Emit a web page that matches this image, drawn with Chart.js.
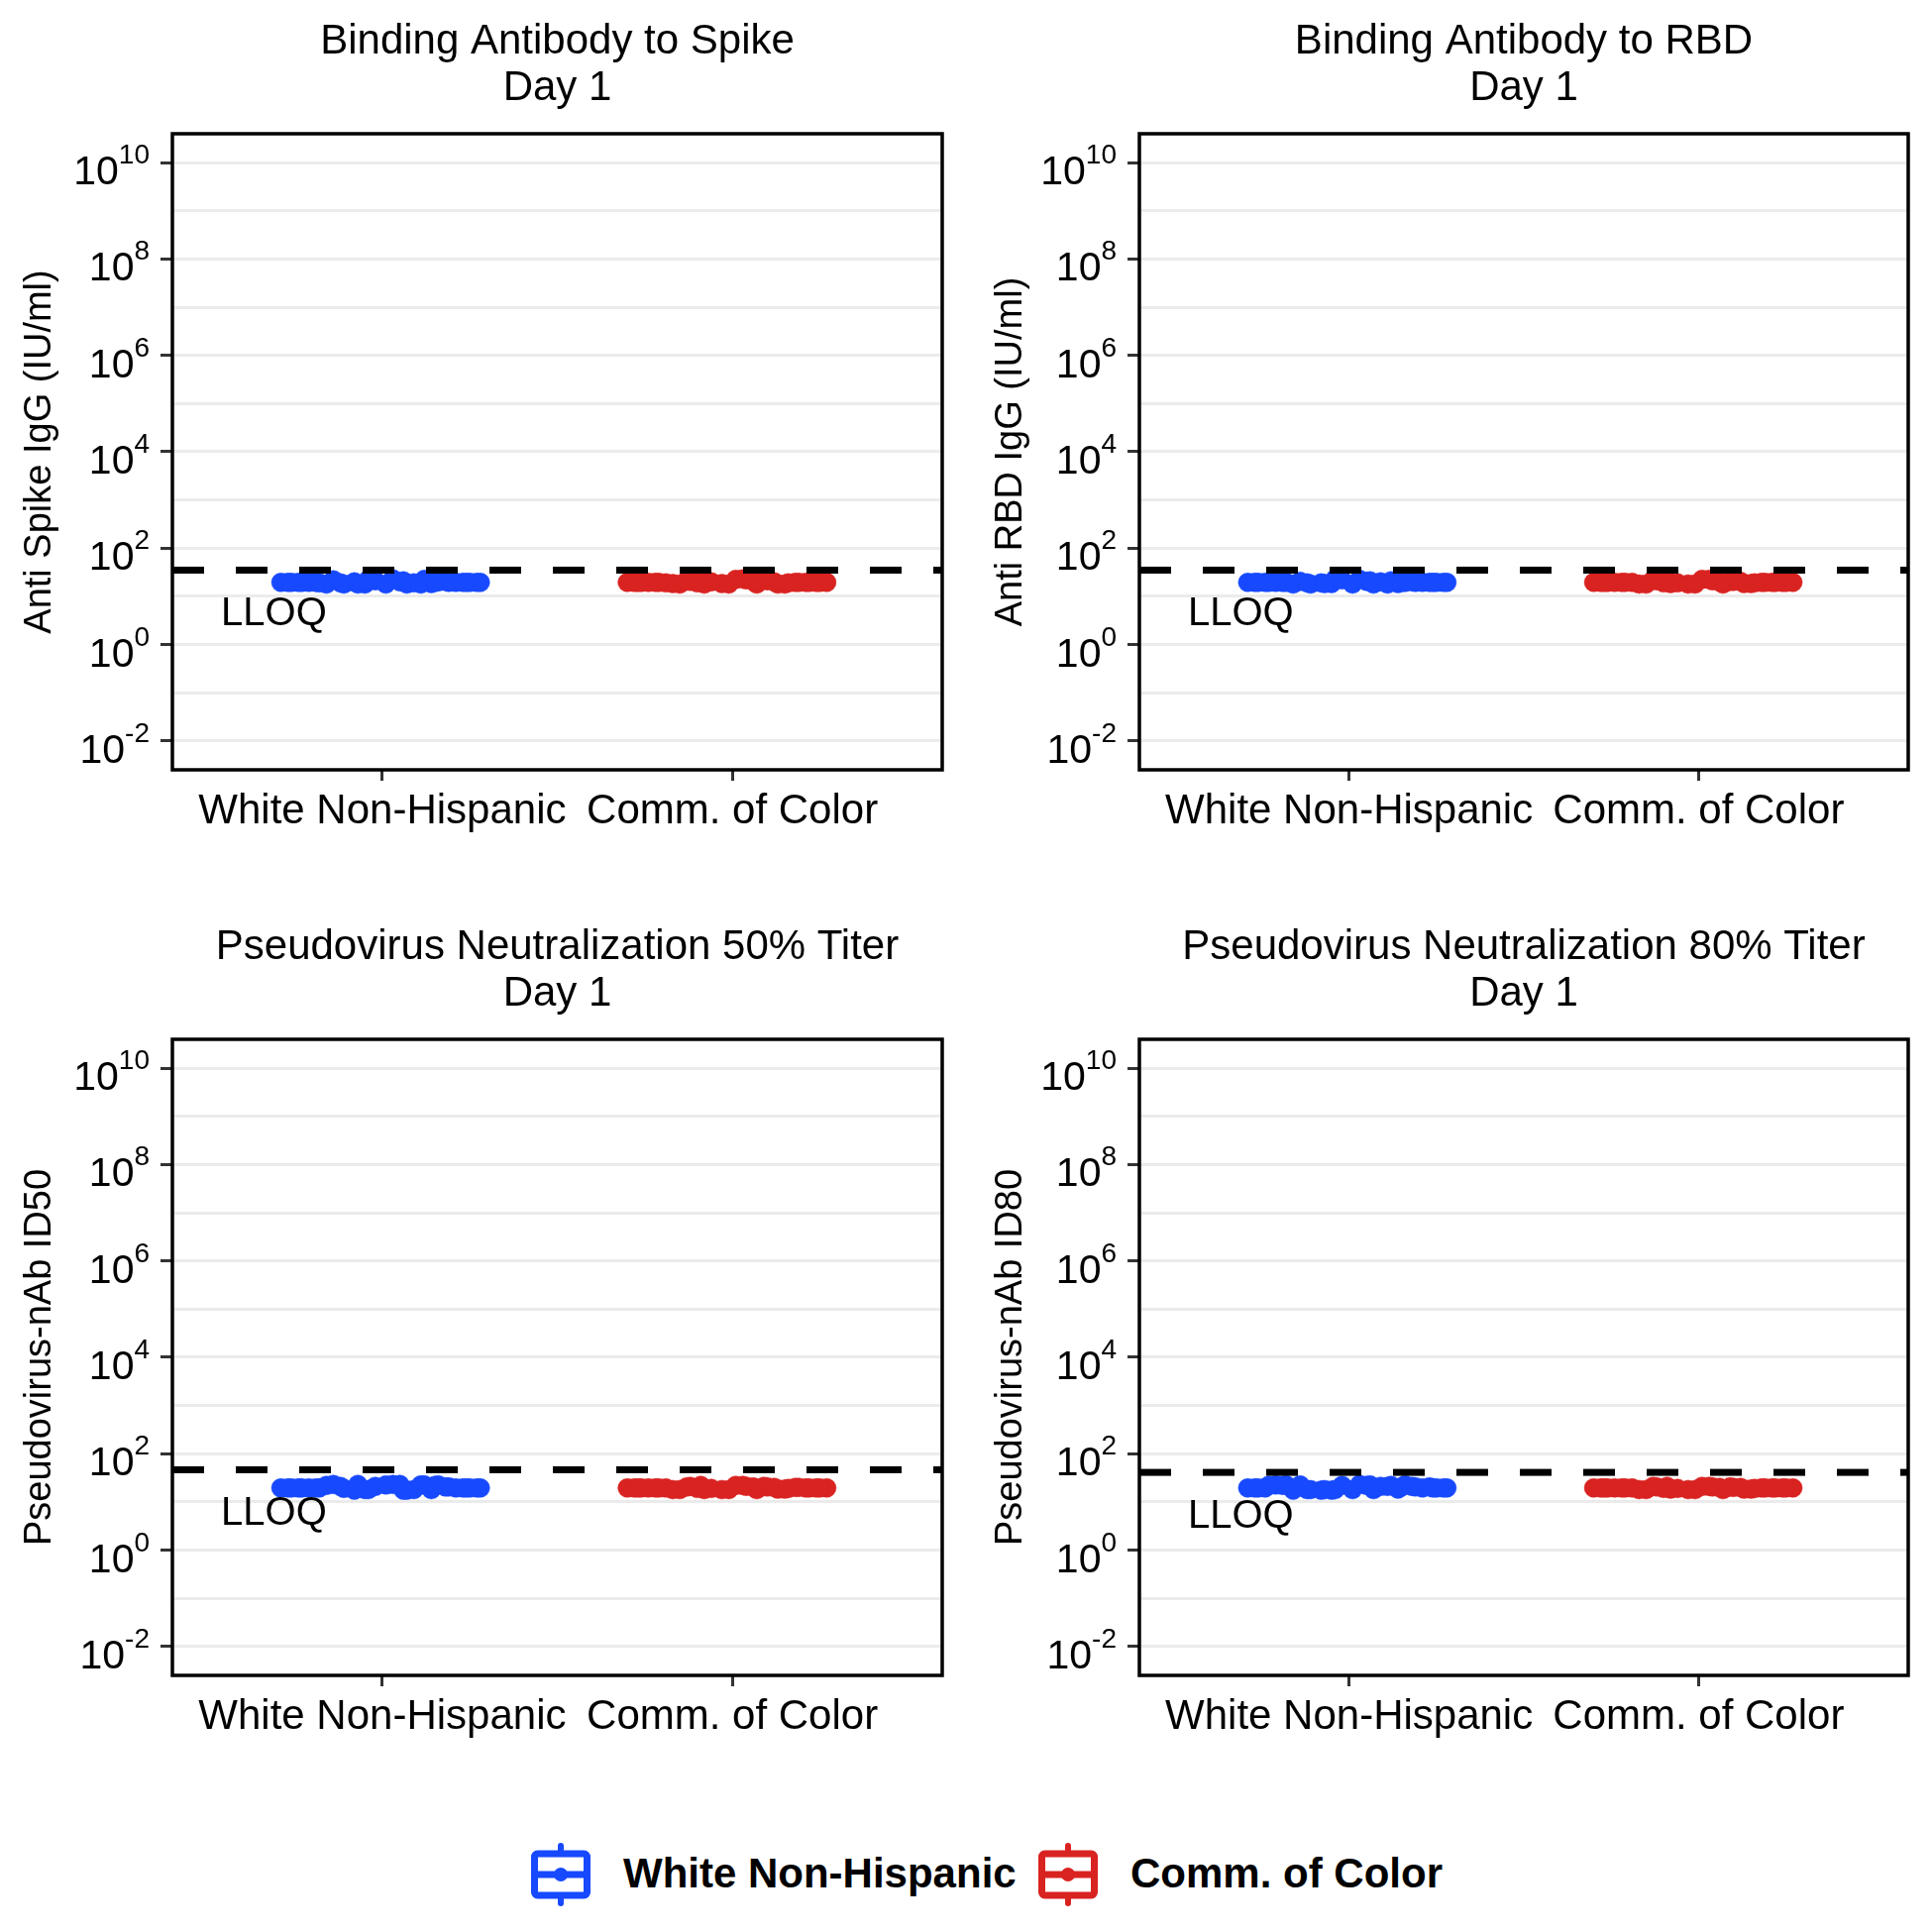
<!DOCTYPE html>
<html>
<head>
<meta charset="utf-8">
<script src="https://cdn.jsdelivr.net/npm/chart.js@4.4.1/dist/chart.umd.min.js"></script>
<style>
  html, body { margin: 0; padding: 0; background: #fff; }
  body { width: 1950px; height: 1950px; position: relative; overflow: hidden; font-family: "Liberation Sans", Arial, sans-serif; }
  canvas.panel { position: absolute; }
  .legend-icon { position: absolute; }
  .legend-text { position: absolute; font-weight: bold; font-size: 42px; line-height: 50px; color: #000; white-space: nowrap; }
</style>
</head>
<body>
<canvas id="p0" class="panel" width="975" height="900" style="left:0;top:0;width:975px;height:900px"></canvas>
<canvas id="p1" class="panel" width="975" height="900" style="left:975px;top:0;width:975px;height:900px"></canvas>
<canvas id="p2" class="panel" width="975" height="900" style="left:0;top:914px;width:975px;height:900px"></canvas>
<canvas id="p3" class="panel" width="975" height="900" style="left:975px;top:914px;width:975px;height:900px"></canvas>

<svg class="legend-icon" style="left:535px;top:1860px" width="62" height="64" viewBox="0 0 62 64">
  <line x1="31" y1="3" x2="31" y2="61" stroke="#1749FF" stroke-width="6" stroke-linecap="round"/>
  <rect x="4.5" y="11" width="53" height="42" rx="3" fill="#fff" stroke="#1749FF" stroke-width="7"/>
  <line x1="4.5" y1="32" x2="57.5" y2="32" stroke="#1749FF" stroke-width="7"/>
  <circle cx="31" cy="32" r="7" fill="#1749FF"/>
</svg>
<span class="legend-text" style="left:629px;top:1866px">White Non-Hispanic</span>
<svg class="legend-icon" style="left:1047px;top:1860px" width="62" height="64" viewBox="0 0 62 64">
  <line x1="31" y1="3" x2="31" y2="61" stroke="#D92321" stroke-width="6" stroke-linecap="round"/>
  <rect x="4.5" y="11" width="53" height="42" rx="3" fill="#fff" stroke="#D92321" stroke-width="7"/>
  <line x1="4.5" y1="32" x2="57.5" y2="32" stroke="#D92321" stroke-width="7"/>
  <circle cx="31" cy="32" r="7" fill="#D92321"/>
</svg>
<span class="legend-text" style="left:1141px;top:1866px">Comm. of Color</span>

<script>
const groups = ['White Non-Hispanic', 'Comm. of Color'];
const groupColors = ['#1749FF', '#D92321'];
const panelTitles = [
  ['Binding Antibody to Spike', 'Day 1'],
  ['Binding Antibody to RBD', 'Day 1'],
  ['Pseudovirus Neutralization 50% Titer', 'Day 1'],
  ['Pseudovirus Neutralization 80% Titer', 'Day 1']
];
const yAxisTitles = ['Anti Spike IgG (IU/ml)', 'Anti RBD IgG (IU/ml)', 'Pseudovirus-nAb ID50', 'Pseudovirus-nAb ID80'];
const yTickValues = [1e-2, 1e-1, 1e0, 1e1, 1e2, 1e3, 1e4, 1e5, 1e6, 1e7, 1e8, 1e9, 1e10];
const lloqValues = [35, 35, 46.5, 41];

// horizontal jitter of each point around its group
const jitterWhite = [-0.29, 0.12, -0.05, 0.27, -0.18, 0.03, 0.21, -0.24, -0.11, 0.16, 0.07, -0.02, 0.25, -0.27, 0.09, -0.14, 0.19, -0.08, 0.01, 0.28,
                     -0.21, 0.14, -0.16, 0.05, -0.26, 0.23, -0.04, 0.11, -0.12, 0.18, -0.19, 0.06, -0.07, 0.24, -0.23, 0.15];
const jitterColor = [0.27, -0.22, 0.04, -0.30, 0.15, -0.09, 0.21, -0.15, 0.10, -0.26, -0.03, 0.18, -0.19, 0.07, 0.24, -0.12, 0.01, -0.28, 0.13, -0.06,
                     0.25, -0.17, 0.09, -0.24, 0.19, -0.01, -0.13, 0.16, -0.21, 0.06, 0.22, -0.08, 0.12, -0.27, 0.03, -0.10];

const spikeWhite = [19.5, 22.5, 18, 19.5, 19, 23, 19.5, 19.5, 18, 20, 18, 21, 19.5, 19.5, 19, 22, 19.5, 20, 18, 19.5,
                    19.5, 18.5, 18, 20, 19.5, 19.5, 22.5, 18, 19, 20.5, 19.5, 21, 18, 19.5, 19.5, 19.5];
const spikeColor = [19.5, 19.5, 22, 19.5, 18, 22.5, 19.5, 18, 21, 19.5, 18.5, 19.5, 19, 18, 19.5, 20.5, 22.5, 19.5, 18, 20,
                    19.5, 18.5, 22, 19.5, 19.5, 18, 21, 19, 19.5, 20.5, 19.5, 18, 20, 19.5, 23, 19];
const rbdWhite = [19.5, 21, 18.5, 19.5, 19.5, 22.5, 19.5, 19.5, 18, 19.5, 18, 22, 19.5, 19.5, 20, 20.5, 19.5, 19, 18, 19.5,
                  19.5, 18.5, 18, 20.5, 19.5, 19.5, 23, 18, 19, 20, 19.5, 21, 18.5, 19.5, 19.5, 19.5];
const rbdColor = [19.5, 19.5, 21, 19.5, 18.5, 22, 19.5, 18, 20.5, 19.5, 18, 19.5, 19.5, 18, 19.5, 21, 22.5, 19.5, 18.5, 19,
                  19.5, 18, 20.5, 19.5, 19.5, 18, 22, 19, 19.5, 20, 19.5, 18.5, 20.5, 19.5, 22.5, 19];
const id50White = [19.5, 22.5, 18, 19.5, 19.5, 23, 19.5, 19.5, 19, 22.5, 17.5, 21, 19.5, 19.5, 18, 23, 20.5, 17.5, 22.5, 19.5,
                   19.5, 18, 22, 23, 19.5, 19.5, 18, 22.5, 21, 20.5, 19.5, 17.5, 23, 19.5, 19.5, 22];
const id50Color = [19.5, 19.5, 21, 19.5, 18.5, 22, 19.5, 18, 20.5, 19.5, 18, 20, 19.5, 18, 19.5, 21, 22, 19.5, 18.5, 19,
                   19.5, 18, 21, 19.5, 20, 18, 20.5, 19, 19.5, 20.5, 19.5, 18, 20, 19.5, 22, 19];
const id80White = [19.5, 22, 17.5, 19.5, 22.5, 23, 19.5, 19.5, 18, 22.5, 18, 22, 19.5, 19.5, 21, 22.5, 20.5, 17.5, 18, 19.5,
                   22.5, 18.5, 17.5, 22, 19.5, 20.5, 18, 21, 18, 21, 22, 22.5, 18, 19.5, 22, 20.5];
const id80Color = [19.5, 19.5, 20.5, 19.5, 18.5, 21, 19.5, 18, 20, 19.5, 18, 19.5, 19.5, 18, 19.5, 20.5, 21, 19.5, 18.5, 19,
                   19.5, 18, 20.5, 19.5, 19.5, 18, 21, 19, 19.5, 20, 19.5, 18.5, 20, 19.5, 21, 19];

const panelWhite = [spikeWhite, rbdWhite, id50White, id80White];
const panelColor = [spikeColor, rbdColor, id50Color, id80Color];

const FONT = '"Liberation Sans", Arial, sans-serif';
Chart.defaults.font.family = FONT;
Chart.defaults.color = '#000';

// panel border, LLOQ label and 10^n tick labels
const panelDecor = {
  id: 'panelDecor',
  afterDraw(chart) {
    const ctx = chart.ctx;
    const area = chart.chartArea;
    const ys = chart.scales.y, xs = chart.scales.x;
    ctx.save();
    // LLOQ text
    const lloq = chart.options.plugins.panelDecor.lloq;
    ctx.fillStyle = '#000';
    ctx.font = '40px ' + FONT;
    ctx.textAlign = 'center';
    ctx.textBaseline = 'alphabetic';
    ctx.fillText('LLOQ', xs.getPixelForValue(0.69), ys.getPixelForValue(lloq * 0.138) + 14);
    // y tick labels with superscript exponent
    const right = area.left - 23;
    ys.ticks.forEach(t => {
      const e = Math.round(Math.log10(t.value));
      if (e % 2 !== 0) return;
      const py = ys.getPixelForValue(t.value);
      ctx.textAlign = 'left';
      ctx.font = '41px ' + FONT;
      const bw = ctx.measureText('10').width;
      ctx.font = '28px ' + FONT;
      const sw = ctx.measureText(String(e)).width;
      const x0 = right - bw - sw;
      ctx.font = '41px ' + FONT;
      ctx.fillText('10', x0, py + 22);
      ctx.font = '28px ' + FONT;
      ctx.fillText(String(e), x0 + bw, py + 1);
    });
    // frame
    ctx.strokeStyle = '#000';
    ctx.lineWidth = 3.5;
    ctx.strokeRect(area.left, area.top, area.right - area.left, area.bottom - area.top);
    ctx.restore();
  }
};

function makePanel(i) {
  const isLeft = i % 2 === 0;
  const pts = (vals, jit, g) => vals.map((v, k) => ({ x: g + 1 + jit[k], y: v }));
  new Chart(document.getElementById('p' + i), {
    type: 'scatter',
    data: {
      datasets: [
        { label: 'LLOQ', data: [{ x: 0.4, y: lloqValues[i] }, { x: 2.6, y: lloqValues[i] }],
          showLine: true, borderColor: '#000', borderWidth: 7, borderDash: [32, 32], borderCapStyle: 'butt',
          pointRadius: 0, fill: false },
        { label: groups[0], data: pts(panelWhite[i], jitterWhite, 0),
          backgroundColor: groupColors[0], borderColor: groupColors[0], pointRadius: 9.5, borderWidth: 0.5 },
        { label: groups[1], data: pts(panelColor[i], jitterColor, 1),
          backgroundColor: groupColors[1], borderColor: groupColors[1], pointRadius: 9.5, borderWidth: 0.5 }
      ]
    },
    options: {
      responsive: false,
      animation: false,
      layout: { padding: { left: 0, right: 24, top: 0, bottom: 23 } },
      scales: {
        x: {
          type: 'linear', min: 0.4, max: 2.6,
          afterBuildTicks: s => { s.ticks = groups.map((g, k) => ({ value: k + 1 })); },
          afterFit: s => { s.height = 100; },
          ticks: { callback: v => groups[v - 1], font: { size: 42 }, color: '#000', padding: 6, maxRotation: 0, autoSkip: false },
          grid: { drawOnChartArea: false, drawTicks: true, tickLength: 11, tickColor: '#333', tickWidth: 3 },
          border: { display: false }
        },
        y: {
          type: 'logarithmic', min: 0.0025119, max: 3.981e10,
          afterBuildTicks: s => { s.ticks = yTickValues.map(v => ({ value: v })); },
          afterFit: s => { s.width = isLeft ? 174 : 175; },
          ticks: { display: false },
          grid: {
            color: '#EBEBEB', lineWidth: 3, drawTicks: true, tickLength: 12, tickWidth: 3,
            tickColor: c => (c.tick && Math.round(Math.log10(c.tick.value)) % 2 === 0) ? '#333' : 'rgba(0,0,0,0)'
          },
          border: { display: false },
          title: { display: true, text: yAxisTitles[i], font: { size: 38 }, color: '#000',
                   padding: { top: isLeft ? 18 : 23, bottom: 0 } }
        }
      },
      plugins: {
        legend: { display: false },
        tooltip: { enabled: false },
        title: {
          display: true, text: panelTitles[i], fullSize: false, color: '#000',
          font: { size: 42, weight: 'normal', lineHeight: 1.119 },
          padding: { top: 19.25, bottom: 21.75 }
        },
        panelDecor: { lloq: lloqValues[i] }
      }
    },
    plugins: [panelDecor]
  });
}

[0, 1, 2, 3].forEach(makePanel);
</script>
</body>
</html>
